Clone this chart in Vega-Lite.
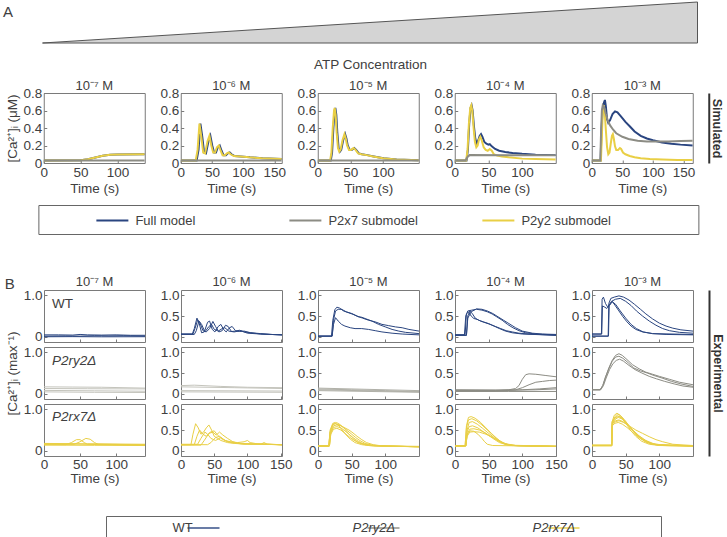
{
"$schema": "https://vega.github.io/schema/vega-lite/v6.json",
"padding": {"left": 2, "top": 0, "right": 0, "bottom": 0},
"config": {
 "font": "Liberation Sans",
 "concat": {"spacing": 0},
 "view": {"stroke": "#7a7a7a", "strokeWidth": 1},
 "axis": {"domain": false, "grid": false, "tickSize": -3, "tickColor": "#7a7a7a", "labelFontSize": 13.5, "labelColor": "#404040", "titleFontSize": 13.5, "titleFontWeight": "normal", "titleColor": "#404040", "labelPadding": 5, "titlePadding": 3, "labelFlush": false, "labelOverlap": false},
 "title": {"fontSize": 13, "fontWeight": "normal", "color": "#404040", "offset": 4},
 "legend": {"labelFontSize": 13, "labelColor": "#404040"}
},
"datasets": {
 "s7": [
  {"m":"Full model","t":0,"v":0.03},{"m":"Full model","t":50,"v":0.031},{"m":"Full model","t":60,"v":0.042},{"m":"Full model","t":70,"v":0.063},{"m":"Full model","t":80,"v":0.083},{"m":"Full model","t":90,"v":0.093},{"m":"Full model","t":100,"v":0.097},{"m":"Full model","t":137,"v":0.099},
  {"m":"P2y2 submodel","t":0,"v":0.03},{"m":"P2y2 submodel","t":50,"v":0.031},{"m":"P2y2 submodel","t":60,"v":0.042},{"m":"P2y2 submodel","t":70,"v":0.063},{"m":"P2y2 submodel","t":80,"v":0.083},{"m":"P2y2 submodel","t":90,"v":0.093},{"m":"P2y2 submodel","t":100,"v":0.097},{"m":"P2y2 submodel","t":137,"v":0.099},
  {"m":"P2x7 submodel","t":0,"v":0.03},{"m":"P2x7 submodel","t":137,"v":0.03}
 ],
 "s6": [
  {"m":"Full model","t":0,"v":0.03},{"m":"Full model","t":25.5,"v":0.03},{"m":"Full model","t":28.5,"v":0.15},{"m":"Full model","t":31.5,"v":0.45},{"m":"Full model","t":34.5,"v":0.3},{"m":"Full model","t":37.5,"v":0.12},{"m":"Full model","t":40.5,"v":0.11},{"m":"Full model","t":44.5,"v":0.25},{"m":"Full model","t":47.5,"v":0.31},{"m":"Full model","t":50.5,"v":0.2},{"m":"Full model","t":53.5,"v":0.12},{"m":"Full model","t":56.5,"v":0.12},{"m":"Full model","t":59.5,"v":0.18},{"m":"Full model","t":62.5,"v":0.2},{"m":"Full model","t":65.5,"v":0.14},{"m":"Full model","t":68.5,"v":0.09},{"m":"Full model","t":72.5,"v":0.09},{"m":"Full model","t":75.5,"v":0.11},{"m":"Full model","t":78.5,"v":0.12},{"m":"Full model","t":81.5,"v":0.1},{"m":"Full model","t":86.5,"v":0.08},{"m":"Full model","t":96,"v":0.075},{"m":"Full model","t":111,"v":0.065},{"m":"Full model","t":131,"v":0.055},{"m":"Full model","t":162,"v":0.045},
  {"m":"P2y2 submodel","t":0,"v":0.03},{"m":"P2y2 submodel","t":24,"v":0.03},{"m":"P2y2 submodel","t":27,"v":0.15},{"m":"P2y2 submodel","t":30,"v":0.45},{"m":"P2y2 submodel","t":33,"v":0.3},{"m":"P2y2 submodel","t":36,"v":0.12},{"m":"P2y2 submodel","t":39,"v":0.11},{"m":"P2y2 submodel","t":43,"v":0.25},{"m":"P2y2 submodel","t":46,"v":0.31},{"m":"P2y2 submodel","t":49,"v":0.2},{"m":"P2y2 submodel","t":52,"v":0.12},{"m":"P2y2 submodel","t":55,"v":0.12},{"m":"P2y2 submodel","t":58,"v":0.18},{"m":"P2y2 submodel","t":61,"v":0.2},{"m":"P2y2 submodel","t":64,"v":0.14},{"m":"P2y2 submodel","t":67,"v":0.09},{"m":"P2y2 submodel","t":71,"v":0.09},{"m":"P2y2 submodel","t":74,"v":0.11},{"m":"P2y2 submodel","t":77,"v":0.12},{"m":"P2y2 submodel","t":80,"v":0.1},{"m":"P2y2 submodel","t":85,"v":0.08},{"m":"P2y2 submodel","t":95,"v":0.075},{"m":"P2y2 submodel","t":110,"v":0.065},{"m":"P2y2 submodel","t":130,"v":0.055},{"m":"P2y2 submodel","t":162,"v":0.045},
  {"m":"P2x7 submodel","t":0,"v":0.03},{"m":"P2x7 submodel","t":162,"v":0.03}
 ],
 "s5": [
  {"m":"Full model","t":0,"v":0.03},{"m":"Full model","t":20,"v":0.03},{"m":"Full model","t":22,"v":0.12},{"m":"Full model","t":24,"v":0.4},{"m":"Full model","t":26,"v":0.6},{"m":"Full model","t":27,"v":0.63},{"m":"Full model","t":28.5,"v":0.55},{"m":"Full model","t":30,"v":0.35},{"m":"Full model","t":32,"v":0.17},{"m":"Full model","t":34,"v":0.13},{"m":"Full model","t":36,"v":0.15},{"m":"Full model","t":39,"v":0.26},{"m":"Full model","t":42,"v":0.33},{"m":"Full model","t":44,"v":0.28},{"m":"Full model","t":46,"v":0.2},{"m":"Full model","t":49,"v":0.15},{"m":"Full model","t":52,"v":0.15},{"m":"Full model","t":56,"v":0.17},{"m":"Full model","t":59,"v":0.15},{"m":"Full model","t":63,"v":0.11},{"m":"Full model","t":68,"v":0.1},{"m":"Full model","t":76,"v":0.09},{"m":"Full model","t":86,"v":0.075},{"m":"Full model","t":101,"v":0.055},{"m":"Full model","t":121,"v":0.04},{"m":"Full model","t":155,"v":0.031},
  {"m":"P2y2 submodel","t":0,"v":0.03},{"m":"P2y2 submodel","t":19,"v":0.03},{"m":"P2y2 submodel","t":21,"v":0.12},{"m":"P2y2 submodel","t":23,"v":0.4},{"m":"P2y2 submodel","t":25,"v":0.6},{"m":"P2y2 submodel","t":26,"v":0.63},{"m":"P2y2 submodel","t":27.5,"v":0.55},{"m":"P2y2 submodel","t":29,"v":0.35},{"m":"P2y2 submodel","t":31,"v":0.17},{"m":"P2y2 submodel","t":33,"v":0.13},{"m":"P2y2 submodel","t":35,"v":0.15},{"m":"P2y2 submodel","t":38,"v":0.26},{"m":"P2y2 submodel","t":41,"v":0.33},{"m":"P2y2 submodel","t":43,"v":0.28},{"m":"P2y2 submodel","t":45,"v":0.2},{"m":"P2y2 submodel","t":48,"v":0.15},{"m":"P2y2 submodel","t":51,"v":0.15},{"m":"P2y2 submodel","t":55,"v":0.17},{"m":"P2y2 submodel","t":58,"v":0.15},{"m":"P2y2 submodel","t":62,"v":0.11},{"m":"P2y2 submodel","t":67,"v":0.1},{"m":"P2y2 submodel","t":75,"v":0.09},{"m":"P2y2 submodel","t":85,"v":0.075},{"m":"P2y2 submodel","t":100,"v":0.055},{"m":"P2y2 submodel","t":120,"v":0.04},{"m":"P2y2 submodel","t":155,"v":0.031},
  {"m":"P2x7 submodel","t":0,"v":0.03},{"m":"P2x7 submodel","t":155,"v":0.03}
 ],
 "s4": [
  {"m":"Full model","t":0,"v":0.03},{"m":"Full model","t":17.5,"v":0.03},{"m":"Full model","t":19.5,"v":0.15},{"m":"Full model","t":21.5,"v":0.45},{"m":"Full model","t":23.5,"v":0.63},{"m":"Full model","t":25,"v":0.66},{"m":"Full model","t":26.5,"v":0.6},{"m":"Full model","t":28.5,"v":0.42},{"m":"Full model","t":30.5,"v":0.28},{"m":"Full model","t":32.5,"v":0.22},{"m":"Full model","t":35,"v":0.26},{"m":"Full model","t":37,"v":0.31},{"m":"Full model","t":39,"v":0.33},{"m":"Full model","t":41,"v":0.3},{"m":"Full model","t":44,"v":0.24},{"m":"Full model","t":47,"v":0.22},{"m":"Full model","t":50,"v":0.21},{"m":"Full model","t":52,"v":0.215},{"m":"Full model","t":55,"v":0.19},{"m":"Full model","t":60,"v":0.16},{"m":"Full model","t":66,"v":0.14},{"m":"Full model","t":75,"v":0.125},{"m":"Full model","t":86,"v":0.115},{"m":"Full model","t":100,"v":0.105},{"m":"Full model","t":120,"v":0.095},{"m":"Full model","t":150,"v":0.09},
  {"m":"P2y2 submodel","t":0,"v":0.03},{"m":"P2y2 submodel","t":17,"v":0.03},{"m":"P2y2 submodel","t":19,"v":0.15},{"m":"P2y2 submodel","t":21,"v":0.45},{"m":"P2y2 submodel","t":23,"v":0.63},{"m":"P2y2 submodel","t":24.5,"v":0.66},{"m":"P2y2 submodel","t":26,"v":0.6},{"m":"P2y2 submodel","t":28,"v":0.4},{"m":"P2y2 submodel","t":30,"v":0.24},{"m":"P2y2 submodel","t":32,"v":0.18},{"m":"P2y2 submodel","t":34,"v":0.2},{"m":"P2y2 submodel","t":36,"v":0.27},{"m":"P2y2 submodel","t":38,"v":0.3},{"m":"P2y2 submodel","t":40,"v":0.26},{"m":"P2y2 submodel","t":43,"v":0.18},{"m":"P2y2 submodel","t":46,"v":0.15},{"m":"P2y2 submodel","t":49,"v":0.14},{"m":"P2y2 submodel","t":52,"v":0.16},{"m":"P2y2 submodel","t":55,"v":0.14},{"m":"P2y2 submodel","t":58,"v":0.1},{"m":"P2y2 submodel","t":63,"v":0.085},{"m":"P2y2 submodel","t":70,"v":0.075},{"m":"P2y2 submodel","t":80,"v":0.065},{"m":"P2y2 submodel","t":100,"v":0.05},{"m":"P2y2 submodel","t":120,"v":0.045},{"m":"P2y2 submodel","t":150,"v":0.04},
  {"m":"P2x7 submodel","t":0,"v":0.03},{"m":"P2x7 submodel","t":16,"v":0.03},{"m":"P2x7 submodel","t":19,"v":0.07},{"m":"P2x7 submodel","t":22,"v":0.09},{"m":"P2x7 submodel","t":150,"v":0.088}
 ],
 "s3": [
  {"m":"Full model","t":0,"v":0.03},{"m":"Full model","t":14.5,"v":0.03},{"m":"Full model","t":16,"v":0.4},{"m":"Full model","t":18,"v":0.62},{"m":"Full model","t":20,"v":0.69},{"m":"Full model","t":21.5,"v":0.72},{"m":"Full model","t":23,"v":0.65},{"m":"Full model","t":25,"v":0.5},{"m":"Full model","t":27,"v":0.46},{"m":"Full model","t":30,"v":0.49},{"m":"Full model","t":34,"v":0.56},{"m":"Full model","t":38,"v":0.59},{"m":"Full model","t":42,"v":0.58},{"m":"Full model","t":48,"v":0.53},{"m":"Full model","t":55,"v":0.47},{"m":"Full model","t":62,"v":0.42},{"m":"Full model","t":70,"v":0.36},{"m":"Full model","t":80,"v":0.31},{"m":"Full model","t":90,"v":0.28},{"m":"Full model","t":100,"v":0.26},{"m":"Full model","t":115,"v":0.235},{"m":"Full model","t":130,"v":0.22},{"m":"Full model","t":145,"v":0.21},{"m":"Full model","t":165,"v":0.2},
  {"m":"P2y2 submodel","t":0,"v":0.03},{"m":"P2y2 submodel","t":15,"v":0.03},{"m":"P2y2 submodel","t":16.5,"v":0.3},{"m":"P2y2 submodel","t":18,"v":0.6},{"m":"P2y2 submodel","t":19.5,"v":0.66},{"m":"P2y2 submodel","t":21,"v":0.6},{"m":"P2y2 submodel","t":23,"v":0.38},{"m":"P2y2 submodel","t":25,"v":0.18},{"m":"P2y2 submodel","t":27,"v":0.1},{"m":"P2y2 submodel","t":29,"v":0.12},{"m":"P2y2 submodel","t":31,"v":0.22},{"m":"P2y2 submodel","t":33,"v":0.31},{"m":"P2y2 submodel","t":34.5,"v":0.33},{"m":"P2y2 submodel","t":36,"v":0.28},{"m":"P2y2 submodel","t":38,"v":0.19},{"m":"P2y2 submodel","t":40,"v":0.15},{"m":"P2y2 submodel","t":43,"v":0.15},{"m":"P2y2 submodel","t":46,"v":0.17},{"m":"P2y2 submodel","t":48,"v":0.16},{"m":"P2y2 submodel","t":51,"v":0.12},{"m":"P2y2 submodel","t":55,"v":0.1},{"m":"P2y2 submodel","t":62,"v":0.08},{"m":"P2y2 submodel","t":70,"v":0.065},{"m":"P2y2 submodel","t":80,"v":0.055},{"m":"P2y2 submodel","t":95,"v":0.045},{"m":"P2y2 submodel","t":115,"v":0.04},{"m":"P2y2 submodel","t":140,"v":0.035},{"m":"P2y2 submodel","t":165,"v":0.033},
  {"m":"P2x7 submodel","t":0,"v":0.03},{"m":"P2x7 submodel","t":14,"v":0.03},{"m":"P2x7 submodel","t":15,"v":0.3},{"m":"P2x7 submodel","t":16.5,"v":0.6},{"m":"P2x7 submodel","t":18,"v":0.66},{"m":"P2x7 submodel","t":20,"v":0.64},{"m":"P2x7 submodel","t":23,"v":0.56},{"m":"P2x7 submodel","t":26,"v":0.49},{"m":"P2x7 submodel","t":30,"v":0.43},{"m":"P2x7 submodel","t":35,"v":0.38},{"m":"P2x7 submodel","t":40,"v":0.34},{"m":"P2x7 submodel","t":50,"v":0.3},{"m":"P2x7 submodel","t":60,"v":0.275},{"m":"P2x7 submodel","t":75,"v":0.255},{"m":"P2x7 submodel","t":90,"v":0.247},{"m":"P2x7 submodel","t":105,"v":0.245},{"m":"P2x7 submodel","t":125,"v":0.247},{"m":"P2x7 submodel","t":145,"v":0.252},{"m":"P2x7 submodel","t":165,"v":0.255}
 ],
 "e7w": [
  {"r":1,"t":0,"v":0.05},{"r":1,"t":20,"v":0.05},{"r":1,"t":40,"v":0.045},{"r":1,"t":50,"v":0.06},{"r":1,"t":60,"v":0.05},{"r":1,"t":80,"v":0.045},{"r":1,"t":100,"v":0.05},{"r":1,"t":120,"v":0.04},{"r":1,"t":140,"v":0.04},
  {"r":2,"t":0,"v":0.02},{"r":2,"t":30,"v":0.025},{"r":2,"t":50,"v":0.02},{"r":2,"t":70,"v":0.03},{"r":2,"t":90,"v":0.025},{"r":2,"t":110,"v":0.03},{"r":2,"t":140,"v":0.02},
  {"r":3,"t":0,"v":0.005},{"r":3,"t":40,"v":0.008},{"r":3,"t":80,"v":0.004},{"r":3,"t":140,"v":0.006}
 ],
 "e7g": [
  {"r":1,"t":0,"v":0.17},{"r":1,"t":40,"v":0.165},{"r":1,"t":80,"v":0.16},{"r":1,"t":140,"v":0.14},
  {"r":2,"t":0,"v":0.13},{"r":2,"t":60,"v":0.125},{"r":2,"t":140,"v":0.12},
  {"r":3,"t":0,"v":0.085},{"r":3,"t":70,"v":0.075},{"r":3,"t":140,"v":0.065},
  {"r":4,"t":0,"v":0.05},{"r":4,"t":70,"v":0.04},{"r":4,"t":140,"v":0.035}
 ],
 "e7y": [
  {"r":1,"t":0,"v":0.17},{"r":1,"t":40,"v":0.165},{"r":1,"t":70,"v":0.16},{"r":1,"t":100,"v":0.155},{"r":1,"t":140,"v":0.15},
  {"r":2,"t":0,"v":0.15},{"r":2,"t":30,"v":0.15},{"r":2,"t":38,"v":0.2},{"r":2,"t":45,"v":0.27},{"r":2,"t":50,"v":0.27},{"r":2,"t":56,"v":0.2},{"r":2,"t":60,"v":0.16},{"r":2,"t":100,"v":0.15},{"r":2,"t":140,"v":0.14},
  {"r":3,"t":0,"v":0.16},{"r":3,"t":42,"v":0.16},{"r":3,"t":50,"v":0.22},{"r":3,"t":58,"v":0.3},{"r":3,"t":64,"v":0.28},{"r":3,"t":70,"v":0.2},{"r":3,"t":75,"v":0.16},{"r":3,"t":140,"v":0.15},
  {"r":4,"t":0,"v":0.14},{"r":4,"t":70,"v":0.135},{"r":4,"t":140,"v":0.13},
  {"r":5,"t":0,"v":0.18},{"r":5,"t":60,"v":0.17},{"r":5,"t":140,"v":0.16}
 ],
 "e6w": [
  {"r":1,"t":0,"v":0.07},{"r":1,"t":17,"v":0.07},{"r":1,"t":20,"v":0.2},{"r":1,"t":24,"v":0.45},{"r":1,"t":27,"v":0.35},{"r":1,"t":31,"v":0.1},{"r":1,"t":35,"v":0.12},{"r":1,"t":40,"v":0.35},{"r":1,"t":43,"v":0.38},{"r":1,"t":47,"v":0.18},{"r":1,"t":51,"v":0.12},{"r":1,"t":56,"v":0.25},{"r":1,"t":60,"v":0.3},{"r":1,"t":64,"v":0.18},{"r":1,"t":68,"v":0.12},{"r":1,"t":73,"v":0.22},{"r":1,"t":77,"v":0.25},{"r":1,"t":82,"v":0.15},{"r":1,"t":88,"v":0.13},{"r":1,"t":95,"v":0.14},{"r":1,"t":105,"v":0.1},{"r":1,"t":120,"v":0.08},{"r":1,"t":135,"v":0.06},{"r":1,"t":152,"v":0.05},
  {"r":2,"t":0,"v":0.07},{"r":2,"t":18,"v":0.07},{"r":2,"t":21,"v":0.2},{"r":2,"t":25,"v":0.4},{"r":2,"t":28,"v":0.36},{"r":2,"t":33,"v":0.15},{"r":2,"t":38,"v":0.12},{"r":2,"t":43,"v":0.2},{"r":2,"t":48,"v":0.37},{"r":2,"t":52,"v":0.25},{"r":2,"t":57,"v":0.12},{"r":2,"t":62,"v":0.15},{"r":2,"t":67,"v":0.28},{"r":2,"t":71,"v":0.25},{"r":2,"t":76,"v":0.13},{"r":2,"t":82,"v":0.14},{"r":2,"t":88,"v":0.16},{"r":2,"t":95,"v":0.12},{"r":2,"t":105,"v":0.1},{"r":2,"t":120,"v":0.07},{"r":2,"t":135,"v":0.06},{"r":2,"t":152,"v":0.05},
  {"r":3,"t":0,"v":0.06},{"r":3,"t":20,"v":0.06},{"r":3,"t":23,"v":0.15},{"r":3,"t":27,"v":0.38},{"r":3,"t":31,"v":0.3},{"r":3,"t":36,"v":0.12},{"r":3,"t":42,"v":0.25},{"r":3,"t":46,"v":0.3},{"r":3,"t":50,"v":0.18},{"r":3,"t":56,"v":0.14},{"r":3,"t":62,"v":0.2},{"r":3,"t":66,"v":0.22},{"r":3,"t":72,"v":0.14},{"r":3,"t":80,"v":0.12},{"r":3,"t":90,"v":0.15},{"r":3,"t":100,"v":0.09},{"r":3,"t":120,"v":0.07},{"r":3,"t":152,"v":0.05}
 ],
 "e6g": [
  {"r":1,"t":0,"v":0.2},{"r":1,"t":20,"v":0.21},{"r":1,"t":60,"v":0.18},{"r":1,"t":100,"v":0.16},{"r":1,"t":152,"v":0.15},
  {"r":2,"t":0,"v":0.17},{"r":2,"t":80,"v":0.15},{"r":2,"t":152,"v":0.13},
  {"r":3,"t":0,"v":0.08},{"r":3,"t":152,"v":0.07},
  {"r":4,"t":0,"v":0.05},{"r":4,"t":152,"v":0.04}
 ],
 "e6y": [
  {"r":1,"t":0,"v":0.15},{"r":1,"t":15,"v":0.15},{"r":1,"t":18,"v":0.4},{"r":1,"t":22,"v":0.65},{"r":1,"t":26,"v":0.55},{"r":1,"t":30,"v":0.4},{"r":1,"t":34,"v":0.45},{"r":1,"t":38,"v":0.55},{"r":1,"t":42,"v":0.62},{"r":1,"t":46,"v":0.5},{"r":1,"t":50,"v":0.35},{"r":1,"t":55,"v":0.3},{"r":1,"t":60,"v":0.25},{"r":1,"t":70,"v":0.2},{"r":1,"t":80,"v":0.18},{"r":1,"t":90,"v":0.17},{"r":1,"t":100,"v":0.17},{"r":1,"t":152,"v":0.15},
  {"r":2,"t":0,"v":0.15},{"r":2,"t":20,"v":0.15},{"r":2,"t":24,"v":0.35},{"r":2,"t":28,"v":0.5},{"r":2,"t":33,"v":0.4},{"r":2,"t":38,"v":0.35},{"r":2,"t":44,"v":0.45},{"r":2,"t":50,"v":0.48},{"r":2,"t":54,"v":0.4},{"r":2,"t":60,"v":0.3},{"r":2,"t":66,"v":0.25},{"r":2,"t":75,"v":0.22},{"r":2,"t":85,"v":0.2},{"r":2,"t":95,"v":0.22},{"r":2,"t":100,"v":0.25},{"r":2,"t":104,"v":0.2},{"r":2,"t":115,"v":0.17},{"r":2,"t":152,"v":0.15},
  {"r":3,"t":0,"v":0.14},{"r":3,"t":30,"v":0.14},{"r":3,"t":35,"v":0.25},{"r":3,"t":42,"v":0.42},{"r":3,"t":48,"v":0.45},{"r":3,"t":53,"v":0.38},{"r":3,"t":58,"v":0.45},{"r":3,"t":63,"v":0.38},{"r":3,"t":70,"v":0.3},{"r":3,"t":78,"v":0.22},{"r":3,"t":85,"v":0.19},{"r":3,"t":95,"v":0.16},{"r":3,"t":120,"v":0.16},{"r":3,"t":125,"v":0.2},{"r":3,"t":130,"v":0.16},{"r":3,"t":152,"v":0.14},
  {"r":4,"t":0,"v":0.15},{"r":4,"t":40,"v":0.15},{"r":4,"t":45,"v":0.2},{"r":4,"t":52,"v":0.32},{"r":4,"t":58,"v":0.35},{"r":4,"t":64,"v":0.28},{"r":4,"t":70,"v":0.22},{"r":4,"t":80,"v":0.2},{"r":4,"t":90,"v":0.18},{"r":4,"t":152,"v":0.15},
  {"r":5,"t":0,"v":0.16},{"r":5,"t":25,"v":0.16},{"r":5,"t":30,"v":0.3},{"r":5,"t":36,"v":0.45},{"r":5,"t":40,"v":0.4},{"r":5,"t":45,"v":0.3},{"r":5,"t":52,"v":0.25},{"r":5,"t":60,"v":0.32},{"r":5,"t":66,"v":0.25},{"r":5,"t":75,"v":0.2},{"r":5,"t":90,"v":0.17},{"r":5,"t":152,"v":0.15}
 ],
 "e5w": [
  {"r":1,"t":0,"v":0.02},{"r":1,"t":20,"v":0.02},{"r":1,"t":22,"v":0.4},{"r":1,"t":25,"v":0.65},{"r":1,"t":28,"v":0.71},{"r":1,"t":32,"v":0.69},{"r":1,"t":38,"v":0.62},{"r":1,"t":45,"v":0.58},{"r":1,"t":52,"v":0.54},{"r":1,"t":60,"v":0.48},{"r":1,"t":65,"v":0.47},{"r":1,"t":70,"v":0.44},{"r":1,"t":80,"v":0.38},{"r":1,"t":90,"v":0.3},{"r":1,"t":100,"v":0.24},{"r":1,"t":110,"v":0.18},{"r":1,"t":120,"v":0.14},{"r":1,"t":130,"v":0.11},{"r":1,"t":150,"v":0.08},
  {"r":2,"t":0,"v":0.02},{"r":2,"t":21,"v":0.02},{"r":2,"t":23,"v":0.4},{"r":2,"t":26,"v":0.62},{"r":2,"t":30,"v":0.66},{"r":2,"t":35,"v":0.66},{"r":2,"t":42,"v":0.6},{"r":2,"t":50,"v":0.56},{"r":2,"t":58,"v":0.5},{"r":2,"t":66,"v":0.45},{"r":2,"t":75,"v":0.4},{"r":2,"t":85,"v":0.36},{"r":2,"t":95,"v":0.3},{"r":2,"t":105,"v":0.27},{"r":2,"t":115,"v":0.24},{"r":2,"t":125,"v":0.22},{"r":2,"t":135,"v":0.18},{"r":2,"t":150,"v":0.14},
  {"r":3,"t":0,"v":0.02},{"r":3,"t":21,"v":0.02},{"r":3,"t":23,"v":0.3},{"r":3,"t":26,"v":0.46},{"r":3,"t":30,"v":0.38},{"r":3,"t":35,"v":0.3},{"r":3,"t":40,"v":0.26},{"r":3,"t":48,"v":0.22},{"r":3,"t":55,"v":0.2},{"r":3,"t":65,"v":0.2},{"r":3,"t":75,"v":0.18},{"r":3,"t":85,"v":0.15},{"r":3,"t":95,"v":0.12},{"r":3,"t":110,"v":0.09},{"r":3,"t":125,"v":0.07},{"r":3,"t":150,"v":0.05}
 ],
 "e5g": [
  {"r":1,"t":0,"v":0.12},{"r":1,"t":50,"v":0.1},{"r":1,"t":100,"v":0.08},{"r":1,"t":150,"v":0.06},
  {"r":2,"t":0,"v":0.1},{"r":2,"t":150,"v":0.05},
  {"r":3,"t":0,"v":0.08},{"r":3,"t":150,"v":0.04},
  {"r":4,"t":0,"v":0.14},{"r":4,"t":150,"v":0.08}
 ],
 "e5y": [
  {"r":1,"t":0,"v":0.12},{"r":1,"t":16,"v":0.12},{"r":1,"t":18,"v":0.5},{"r":1,"t":22,"v":0.66},{"r":1,"t":26,"v":0.68},{"r":1,"t":30,"v":0.66},{"r":1,"t":35,"v":0.6},{"r":1,"t":40,"v":0.52},{"r":1,"t":45,"v":0.42},{"r":1,"t":50,"v":0.33},{"r":1,"t":55,"v":0.25},{"r":1,"t":60,"v":0.2},{"r":1,"t":70,"v":0.15},{"r":1,"t":80,"v":0.13},{"r":1,"t":100,"v":0.12},{"r":1,"t":150,"v":0.1},
  {"r":2,"t":0,"v":0.12},{"r":2,"t":16,"v":0.12},{"r":2,"t":18,"v":0.45},{"r":2,"t":22,"v":0.62},{"r":2,"t":26,"v":0.65},{"r":2,"t":32,"v":0.62},{"r":2,"t":38,"v":0.56},{"r":2,"t":44,"v":0.48},{"r":2,"t":50,"v":0.4},{"r":2,"t":56,"v":0.32},{"r":2,"t":62,"v":0.25},{"r":2,"t":70,"v":0.18},{"r":2,"t":80,"v":0.14},{"r":2,"t":95,"v":0.12},{"r":2,"t":150,"v":0.1},
  {"r":3,"t":0,"v":0.12},{"r":3,"t":17,"v":0.12},{"r":3,"t":19,"v":0.45},{"r":3,"t":23,"v":0.6},{"r":3,"t":28,"v":0.62},{"r":3,"t":34,"v":0.6},{"r":3,"t":40,"v":0.55},{"r":3,"t":46,"v":0.5},{"r":3,"t":52,"v":0.43},{"r":3,"t":58,"v":0.35},{"r":3,"t":65,"v":0.27},{"r":3,"t":72,"v":0.2},{"r":3,"t":82,"v":0.15},{"r":3,"t":95,"v":0.12},{"r":3,"t":150,"v":0.1},
  {"r":4,"t":0,"v":0.12},{"r":4,"t":17,"v":0.12},{"r":4,"t":19,"v":0.42},{"r":4,"t":23,"v":0.56},{"r":4,"t":28,"v":0.58},{"r":4,"t":34,"v":0.55},{"r":4,"t":40,"v":0.48},{"r":4,"t":46,"v":0.4},{"r":4,"t":52,"v":0.32},{"r":4,"t":58,"v":0.25},{"r":4,"t":66,"v":0.18},{"r":4,"t":76,"v":0.14},{"r":4,"t":90,"v":0.12},{"r":4,"t":150,"v":0.11},
  {"r":5,"t":0,"v":0.12},{"r":5,"t":17,"v":0.12},{"r":5,"t":19,"v":0.4},{"r":5,"t":23,"v":0.52},{"r":5,"t":28,"v":0.54},{"r":5,"t":34,"v":0.5},{"r":5,"t":40,"v":0.42},{"r":5,"t":46,"v":0.34},{"r":5,"t":52,"v":0.27},{"r":5,"t":60,"v":0.2},{"r":5,"t":70,"v":0.15},{"r":5,"t":85,"v":0.12},{"r":5,"t":150,"v":0.1},
  {"r":6,"t":0,"v":0.11},{"r":6,"t":16,"v":0.11},{"r":6,"t":18,"v":0.45},{"r":6,"t":22,"v":0.64},{"r":6,"t":25,"v":0.66},{"r":6,"t":30,"v":0.62},{"r":6,"t":36,"v":0.5},{"r":6,"t":42,"v":0.38},{"r":6,"t":48,"v":0.28},{"r":6,"t":55,"v":0.2},{"r":6,"t":65,"v":0.15},{"r":6,"t":80,"v":0.12},{"r":6,"t":150,"v":0.1}
 ],
 "e4w": [
  {"r":1,"t":0,"v":0.05},{"r":1,"t":14,"v":0.05},{"r":1,"t":16,"v":0.5},{"r":1,"t":19,"v":0.62},{"r":1,"t":25,"v":0.64},{"r":1,"t":32,"v":0.66},{"r":1,"t":40,"v":0.64},{"r":1,"t":48,"v":0.6},{"r":1,"t":55,"v":0.55},{"r":1,"t":62,"v":0.48},{"r":1,"t":70,"v":0.4},{"r":1,"t":78,"v":0.3},{"r":1,"t":86,"v":0.22},{"r":1,"t":95,"v":0.15},{"r":1,"t":105,"v":0.1},{"r":1,"t":120,"v":0.07},{"r":1,"t":150,"v":0.05},
  {"r":2,"t":0,"v":0.05},{"r":2,"t":15,"v":0.05},{"r":2,"t":17,"v":0.55},{"r":2,"t":20,"v":0.6},{"r":2,"t":24,"v":0.5},{"r":2,"t":28,"v":0.44},{"r":2,"t":33,"v":0.42},{"r":2,"t":38,"v":0.38},{"r":2,"t":45,"v":0.34},{"r":2,"t":52,"v":0.3},{"r":2,"t":60,"v":0.25},{"r":2,"t":68,"v":0.2},{"r":2,"t":76,"v":0.15},{"r":2,"t":85,"v":0.12},{"r":2,"t":95,"v":0.09},{"r":2,"t":110,"v":0.07},{"r":2,"t":150,"v":0.04},
  {"r":3,"t":0,"v":0.04},{"r":3,"t":17,"v":0.04},{"r":3,"t":19,"v":0.5},{"r":3,"t":22,"v":0.62},{"r":3,"t":26,"v":0.55},{"r":3,"t":30,"v":0.45},{"r":3,"t":35,"v":0.4},{"r":3,"t":42,"v":0.36},{"r":3,"t":50,"v":0.32},{"r":3,"t":58,"v":0.26},{"r":3,"t":66,"v":0.2},{"r":3,"t":75,"v":0.14},{"r":3,"t":85,"v":0.1},{"r":3,"t":100,"v":0.07},{"r":3,"t":150,"v":0.04},
  {"r":4,"t":0,"v":0.04},{"r":4,"t":17,"v":0.04},{"r":4,"t":19,"v":0.45},{"r":4,"t":24,"v":0.6},{"r":4,"t":32,"v":0.67},{"r":4,"t":40,"v":0.66},{"r":4,"t":48,"v":0.62},{"r":4,"t":56,"v":0.56},{"r":4,"t":64,"v":0.48},{"r":4,"t":72,"v":0.4},{"r":4,"t":80,"v":0.32},{"r":4,"t":90,"v":0.22},{"r":4,"t":100,"v":0.14},{"r":4,"t":115,"v":0.09},{"r":4,"t":130,"v":0.07},{"r":4,"t":150,"v":0.06}
 ],
 "e4g": [
  {"r":1,"t":0,"v":0.09},{"r":1,"t":30,"v":0.09},{"r":1,"t":60,"v":0.09},{"r":1,"t":80,"v":0.1},{"r":1,"t":90,"v":0.13},{"r":1,"t":95,"v":0.2},{"r":1,"t":100,"v":0.35},{"r":1,"t":105,"v":0.46},{"r":1,"t":110,"v":0.48},{"r":1,"t":120,"v":0.47},{"r":1,"t":135,"v":0.44},{"r":1,"t":150,"v":0.41},
  {"r":2,"t":0,"v":0.08},{"r":2,"t":60,"v":0.08},{"r":2,"t":90,"v":0.1},{"r":2,"t":100,"v":0.15},{"r":2,"t":110,"v":0.22},{"r":2,"t":120,"v":0.28},{"r":2,"t":130,"v":0.3},{"r":2,"t":140,"v":0.32},{"r":2,"t":150,"v":0.33},
  {"r":3,"t":0,"v":0.07},{"r":3,"t":60,"v":0.07},{"r":3,"t":100,"v":0.1},{"r":3,"t":125,"v":0.12},{"r":3,"t":150,"v":0.15},
  {"r":4,"t":0,"v":0.1},{"r":4,"t":80,"v":0.09},{"r":4,"t":120,"v":0.1},{"r":4,"t":150,"v":0.12},
  {"r":5,"t":0,"v":0.06},{"r":5,"t":80,"v":0.06},{"r":5,"t":150,"v":0.06}
 ],
 "e4y": [
  {"r":1,"t":0,"v":0.12},{"r":1,"t":15,"v":0.12},{"r":1,"t":17,"v":0.6},{"r":1,"t":20,"v":0.8},{"r":1,"t":24,"v":0.82},{"r":1,"t":30,"v":0.78},{"r":1,"t":38,"v":0.68},{"r":1,"t":46,"v":0.55},{"r":1,"t":54,"v":0.42},{"r":1,"t":62,"v":0.3},{"r":1,"t":70,"v":0.2},{"r":1,"t":80,"v":0.14},{"r":1,"t":95,"v":0.12},{"r":1,"t":150,"v":0.11},
  {"r":2,"t":0,"v":0.12},{"r":2,"t":15,"v":0.12},{"r":2,"t":17,"v":0.55},{"r":2,"t":20,"v":0.74},{"r":2,"t":25,"v":0.77},{"r":2,"t":32,"v":0.72},{"r":2,"t":40,"v":0.62},{"r":2,"t":48,"v":0.5},{"r":2,"t":56,"v":0.38},{"r":2,"t":64,"v":0.27},{"r":2,"t":72,"v":0.18},{"r":2,"t":85,"v":0.13},{"r":2,"t":150,"v":0.11},
  {"r":3,"t":0,"v":0.12},{"r":3,"t":16,"v":0.12},{"r":3,"t":18,"v":0.5},{"r":3,"t":21,"v":0.68},{"r":3,"t":26,"v":0.7},{"r":3,"t":33,"v":0.64},{"r":3,"t":41,"v":0.54},{"r":3,"t":50,"v":0.42},{"r":3,"t":58,"v":0.32},{"r":3,"t":66,"v":0.22},{"r":3,"t":75,"v":0.16},{"r":3,"t":90,"v":0.13},{"r":3,"t":150,"v":0.11},
  {"r":4,"t":0,"v":0.12},{"r":4,"t":16,"v":0.12},{"r":4,"t":18,"v":0.45},{"r":4,"t":21,"v":0.58},{"r":4,"t":26,"v":0.6},{"r":4,"t":34,"v":0.55},{"r":4,"t":42,"v":0.46},{"r":4,"t":50,"v":0.37},{"r":4,"t":58,"v":0.28},{"r":4,"t":66,"v":0.2},{"r":4,"t":78,"v":0.14},{"r":4,"t":150,"v":0.11},
  {"r":5,"t":0,"v":0.12},{"r":5,"t":16,"v":0.12},{"r":5,"t":18,"v":0.4},{"r":5,"t":22,"v":0.52},{"r":5,"t":28,"v":0.53},{"r":5,"t":36,"v":0.5},{"r":5,"t":44,"v":0.44},{"r":5,"t":52,"v":0.36},{"r":5,"t":62,"v":0.26},{"r":5,"t":72,"v":0.18},{"r":5,"t":85,"v":0.13},{"r":5,"t":150,"v":0.11},
  {"r":6,"t":0,"v":0.12},{"r":6,"t":16,"v":0.12},{"r":6,"t":18,"v":0.38},{"r":6,"t":22,"v":0.48},{"r":6,"t":28,"v":0.47},{"r":6,"t":34,"v":0.4},{"r":6,"t":40,"v":0.3},{"r":6,"t":44,"v":0.22},{"r":6,"t":48,"v":0.16},{"r":6,"t":56,"v":0.13},{"r":6,"t":150,"v":0.11},
  {"r":7,"t":0,"v":0.12},{"r":7,"t":16,"v":0.12},{"r":7,"t":18,"v":0.35},{"r":7,"t":22,"v":0.45},{"r":7,"t":28,"v":0.46},{"r":7,"t":36,"v":0.45},{"r":7,"t":46,"v":0.4},{"r":7,"t":56,"v":0.32},{"r":7,"t":66,"v":0.24},{"r":7,"t":76,"v":0.17},{"r":7,"t":90,"v":0.13},{"r":7,"t":150,"v":0.11}
 ],
 "e3w": [
  {"r":1,"t":0,"v":0.07},{"r":1,"t":14,"v":0.07},{"r":1,"t":15,"v":0.9},{"r":1,"t":17,"v":0.95},{"r":1,"t":20,"v":0.8},{"r":1,"t":23,"v":0.72},{"r":1,"t":27,"v":0.8},{"r":1,"t":30,"v":0.85},{"r":1,"t":34,"v":0.76},{"r":1,"t":40,"v":0.62},{"r":1,"t":46,"v":0.48},{"r":1,"t":52,"v":0.36},{"r":1,"t":58,"v":0.26},{"r":1,"t":65,"v":0.18},{"r":1,"t":75,"v":0.12},{"r":1,"t":90,"v":0.08},{"r":1,"t":110,"v":0.06},{"r":1,"t":150,"v":0.05},
  {"r":2,"t":0,"v":0.07},{"r":2,"t":14.5,"v":0.07},{"r":2,"t":15.5,"v":0.74},{"r":2,"t":18,"v":0.72},{"r":2,"t":22,"v":0.68},{"r":2,"t":26,"v":0.75},{"r":2,"t":30,"v":0.84},{"r":2,"t":35,"v":0.78},{"r":2,"t":42,"v":0.62},{"r":2,"t":50,"v":0.45},{"r":2,"t":58,"v":0.3},{"r":2,"t":66,"v":0.2},{"r":2,"t":76,"v":0.12},{"r":2,"t":90,"v":0.08},{"r":2,"t":150,"v":0.06},
  {"r":3,"t":0,"v":0.02},{"r":3,"t":24,"v":0.02},{"r":3,"t":25,"v":0.8},{"r":3,"t":28,"v":0.92},{"r":3,"t":33,"v":0.95},{"r":3,"t":40,"v":0.98},{"r":3,"t":47,"v":0.95},{"r":3,"t":55,"v":0.88},{"r":3,"t":63,"v":0.78},{"r":3,"t":72,"v":0.66},{"r":3,"t":80,"v":0.55},{"r":3,"t":90,"v":0.43},{"r":3,"t":100,"v":0.33},{"r":3,"t":110,"v":0.26},{"r":3,"t":120,"v":0.21},{"r":3,"t":132,"v":0.17},{"r":3,"t":150,"v":0.14},
  {"r":4,"t":0,"v":0.02},{"r":4,"t":24.5,"v":0.02},{"r":4,"t":25.5,"v":0.75},{"r":4,"t":29,"v":0.85},{"r":4,"t":35,"v":0.9},{"r":4,"t":42,"v":0.92},{"r":4,"t":50,"v":0.85},{"r":4,"t":58,"v":0.75},{"r":4,"t":66,"v":0.62},{"r":4,"t":75,"v":0.5},{"r":4,"t":85,"v":0.38},{"r":4,"t":95,"v":0.28},{"r":4,"t":105,"v":0.2},{"r":4,"t":115,"v":0.15},{"r":4,"t":130,"v":0.11},{"r":4,"t":150,"v":0.09}
 ],
 "e3g": [
  {"r":1,"t":0,"v":0.1},{"r":1,"t":12,"v":0.1},{"r":1,"t":16,"v":0.2},{"r":1,"t":20,"v":0.4},{"r":1,"t":25,"v":0.62},{"r":1,"t":30,"v":0.8},{"r":1,"t":35,"v":0.92},{"r":1,"t":40,"v":0.96},{"r":1,"t":45,"v":0.92},{"r":1,"t":52,"v":0.82},{"r":1,"t":60,"v":0.7},{"r":1,"t":70,"v":0.6},{"r":1,"t":80,"v":0.52},{"r":1,"t":90,"v":0.47},{"r":1,"t":100,"v":0.42},{"r":1,"t":115,"v":0.35},{"r":1,"t":130,"v":0.28},{"r":1,"t":150,"v":0.22},
  {"r":2,"t":0,"v":0.1},{"r":2,"t":12,"v":0.1},{"r":2,"t":16,"v":0.2},{"r":2,"t":20,"v":0.4},{"r":2,"t":25,"v":0.6},{"r":2,"t":30,"v":0.78},{"r":2,"t":35,"v":0.88},{"r":2,"t":40,"v":0.9},{"r":2,"t":46,"v":0.85},{"r":2,"t":54,"v":0.74},{"r":2,"t":62,"v":0.62},{"r":2,"t":72,"v":0.55},{"r":2,"t":82,"v":0.5},{"r":2,"t":92,"v":0.44},{"r":2,"t":104,"v":0.38},{"r":2,"t":118,"v":0.3},{"r":2,"t":132,"v":0.24},{"r":2,"t":150,"v":0.18},
  {"r":3,"t":0,"v":0.1},{"r":3,"t":13,"v":0.1},{"r":3,"t":17,"v":0.2},{"r":3,"t":21,"v":0.38},{"r":3,"t":26,"v":0.58},{"r":3,"t":31,"v":0.72},{"r":3,"t":36,"v":0.8},{"r":3,"t":41,"v":0.83},{"r":3,"t":47,"v":0.78},{"r":3,"t":55,"v":0.68},{"r":3,"t":64,"v":0.58},{"r":3,"t":74,"v":0.5},{"r":3,"t":85,"v":0.42},{"r":3,"t":96,"v":0.36},{"r":3,"t":108,"v":0.3},{"r":3,"t":122,"v":0.24},{"r":3,"t":135,"v":0.19},{"r":3,"t":150,"v":0.16}
 ],
 "e3y": [
  {"r":1,"t":0,"v":0.14},{"r":1,"t":29,"v":0.14},{"r":1,"t":30,"v":0.7},{"r":1,"t":34,"v":0.82},{"r":1,"t":38,"v":0.88},{"r":1,"t":42,"v":0.85},{"r":1,"t":48,"v":0.75},{"r":1,"t":55,"v":0.6},{"r":1,"t":62,"v":0.46},{"r":1,"t":70,"v":0.33},{"r":1,"t":80,"v":0.22},{"r":1,"t":90,"v":0.16},{"r":1,"t":105,"v":0.13},{"r":1,"t":150,"v":0.12},
  {"r":2,"t":0,"v":0.13},{"r":2,"t":29,"v":0.13},{"r":2,"t":30,"v":0.68},{"r":2,"t":34,"v":0.78},{"r":2,"t":38,"v":0.84},{"r":2,"t":43,"v":0.8},{"r":2,"t":50,"v":0.68},{"r":2,"t":57,"v":0.55},{"r":2,"t":64,"v":0.42},{"r":2,"t":72,"v":0.3},{"r":2,"t":82,"v":0.2},{"r":2,"t":95,"v":0.15},{"r":2,"t":150,"v":0.12},
  {"r":3,"t":0,"v":0.13},{"r":3,"t":29,"v":0.13},{"r":3,"t":30,"v":0.65},{"r":3,"t":34,"v":0.75},{"r":3,"t":39,"v":0.8},{"r":3,"t":45,"v":0.76},{"r":3,"t":52,"v":0.65},{"r":3,"t":60,"v":0.5},{"r":3,"t":68,"v":0.38},{"r":3,"t":76,"v":0.28},{"r":3,"t":86,"v":0.19},{"r":3,"t":100,"v":0.14},{"r":3,"t":150,"v":0.12},
  {"r":4,"t":0,"v":0.13},{"r":4,"t":29.5,"v":0.13},{"r":4,"t":30.5,"v":0.66},{"r":4,"t":35,"v":0.72},{"r":4,"t":40,"v":0.74},{"r":4,"t":46,"v":0.7},{"r":4,"t":54,"v":0.6},{"r":4,"t":62,"v":0.48},{"r":4,"t":70,"v":0.36},{"r":4,"t":80,"v":0.25},{"r":4,"t":92,"v":0.17},{"r":4,"t":110,"v":0.13},{"r":4,"t":150,"v":0.12},
  {"r":5,"t":0,"v":0.13},{"r":5,"t":29.5,"v":0.13},{"r":5,"t":30.5,"v":0.62},{"r":5,"t":35,"v":0.7},{"r":5,"t":40,"v":0.72},{"r":5,"t":47,"v":0.68},{"r":5,"t":55,"v":0.6},{"r":5,"t":65,"v":0.5},{"r":5,"t":75,"v":0.42},{"r":5,"t":85,"v":0.34},{"r":5,"t":95,"v":0.27},{"r":5,"t":105,"v":0.22},{"r":5,"t":120,"v":0.16},{"r":5,"t":150,"v":0.13},
  {"r":6,"t":0,"v":0.14},{"r":6,"t":29,"v":0.14},{"r":6,"t":30,"v":0.7},{"r":6,"t":33,"v":0.85},{"r":6,"t":37,"v":0.9},{"r":6,"t":41,"v":0.86},{"r":6,"t":46,"v":0.76},{"r":6,"t":52,"v":0.62},{"r":6,"t":58,"v":0.48},{"r":6,"t":65,"v":0.35},{"r":6,"t":74,"v":0.23},{"r":6,"t":85,"v":0.16},{"r":6,"t":100,"v":0.13},{"r":6,"t":150,"v":0.12},
  {"r":7,"t":0,"v":0.13},{"r":7,"t":29,"v":0.13},{"r":7,"t":30,"v":0.6},{"r":7,"t":34,"v":0.66},{"r":7,"t":39,"v":0.68},{"r":7,"t":45,"v":0.64},{"r":7,"t":52,"v":0.56},{"r":7,"t":60,"v":0.45},{"r":7,"t":68,"v":0.34},{"r":7,"t":78,"v":0.24},{"r":7,"t":90,"v":0.16},{"r":7,"t":105,"v":0.13},{"r":7,"t":150,"v":0.12},
  {"r":8,"t":0,"v":0.12},{"r":8,"t":29.5,"v":0.12},{"r":8,"t":30.5,"v":0.72},{"r":8,"t":35,"v":0.8},{"r":8,"t":40,"v":0.82},{"r":8,"t":45,"v":0.78},{"r":8,"t":50,"v":0.7},{"r":8,"t":56,"v":0.58},{"r":8,"t":63,"v":0.44},{"r":8,"t":70,"v":0.32},{"r":8,"t":80,"v":0.22},{"r":8,"t":92,"v":0.16},{"r":8,"t":150,"v":0.12}
 ]
},
"resolve": {"scale": {"color": "independent"}, "legend": {"color": "independent"}},
"center": true,
"spacing": 0,
"vconcat": [
 {
  "center": true,
  "spacing": 7,
  "resolve": {"scale": {"color": "independent"}, "legend": {"color": "independent"}},
  "vconcat": [
   {
    "center": true,
    "spacing": 8,
    "vconcat": [
     {
      "width": 682, "height": 41,
      "view": {"stroke": null},
      "data": {"values": [{"c": 0, "h": 0}, {"c": 1, "h": 1}]},
      "mark": {"type": "area", "fill": "#d4d4d4", "stroke": "#555555", "strokeWidth": 1},
      "encoding": {
       "x": {"field": "c", "type": "quantitative", "scale": {"domain": [0, 1.0412], "nice": false}, "axis": {"title": "ATP Concentration", "labels": false, "ticks": false, "domain": false, "titleX": 327.5, "titlePadding": 14}},
       "y": {"field": "h", "type": "quantitative", "scale": {"domain": [0, 1], "nice": false}, "axis": {"title": "A", "labels": false, "ticks": false, "domain": false, "titleAngle": 0, "titleX": -40, "titleY": 2, "titleAlign": "left", "titleBaseline": "top", "titleFontSize": 15}}
      }
     },
     {
      "hconcat": [
       {
        "width": 101, "height": 70, "title": {"text": "10⁻⁷ M", "offset": -6.5},
        "data": {"name": "s7"},
        "mark": {"type": "line", "strokeWidth": 2, "clip": true},
        "encoding": {
         "x": {"field": "t", "type": "quantitative", "scale": {"domain": [0, 137], "nice": false}, "axis": {"values": [0, 50, 100], "title": "Time (s)"}},
         "y": {"field": "v", "type": "quantitative", "scale": {"domain": [0, 0.8], "nice": false}, "axis": {"values": [0, 0.2, 0.4, 0.6, 0.8], "labelExpr": "datum.value == 0 ? '0' : format(datum.value, '.1f')", "title": "[Ca²⁺]ᵢ (μM)"}},
         "color": {"field": "m", "type": "nominal", "scale": {"domain": ["Full model", "P2x7 submodel", "P2y2 submodel"], "range": ["#2a4580", "#8c8c84", "#e9cf45"]}, "legend": null}
        }
       },
       {
        "width": 101, "height": 70, "title": {"text": "10⁻⁶ M", "offset": -6.5},
        "data": {"name": "s6"},
        "mark": {"type": "line", "strokeWidth": 2, "clip": true},
        "encoding": {
         "x": {"field": "t", "type": "quantitative", "scale": {"domain": [0, 162], "nice": false}, "axis": {"values": [0, 50, 100, 150], "title": "Time (s)"}},
         "y": {"field": "v", "type": "quantitative", "scale": {"domain": [0, 0.8], "nice": false}, "axis": {"values": [0, 0.2, 0.4, 0.6, 0.8], "labelExpr": "datum.value == 0 ? '0' : format(datum.value, '.1f')", "title": null}},
         "color": {"field": "m", "type": "nominal", "scale": {"domain": ["Full model", "P2x7 submodel", "P2y2 submodel"], "range": ["#2a4580", "#8c8c84", "#e9cf45"]}, "legend": null}
        }
       },
       {
        "width": 101, "height": 70, "title": {"text": "10⁻⁵ M", "offset": -6.5},
        "data": {"name": "s5"},
        "mark": {"type": "line", "strokeWidth": 2, "clip": true},
        "encoding": {
         "x": {"field": "t", "type": "quantitative", "scale": {"domain": [0, 155], "nice": false}, "axis": {"values": [0, 50, 100], "title": "Time (s)"}},
         "y": {"field": "v", "type": "quantitative", "scale": {"domain": [0, 0.8], "nice": false}, "axis": {"values": [0, 0.2, 0.4, 0.6, 0.8], "labelExpr": "datum.value == 0 ? '0' : format(datum.value, '.1f')", "title": null}},
         "color": {"field": "m", "type": "nominal", "scale": {"domain": ["Full model", "P2x7 submodel", "P2y2 submodel"], "range": ["#2a4580", "#8c8c84", "#e9cf45"]}, "legend": null}
        }
       },
       {
        "width": 101, "height": 70, "title": {"text": "10⁻⁴ M", "offset": -6.5},
        "data": {"name": "s4"},
        "mark": {"type": "line", "strokeWidth": 2, "clip": true},
        "encoding": {
         "x": {"field": "t", "type": "quantitative", "scale": {"domain": [0, 150], "nice": false}, "axis": {"values": [0, 50, 100], "title": "Time (s)"}},
         "y": {"field": "v", "type": "quantitative", "scale": {"domain": [0, 0.8], "nice": false}, "axis": {"values": [0, 0.2, 0.4, 0.6, 0.8], "labelExpr": "datum.value == 0 ? '0' : format(datum.value, '.1f')", "title": null}},
         "color": {"field": "m", "type": "nominal", "scale": {"domain": ["Full model", "P2x7 submodel", "P2y2 submodel"], "range": ["#2a4580", "#8c8c84", "#e9cf45"]}, "legend": null}
        }
       },
       {
        "width": 101, "height": 70, "title": {"text": "10⁻³ M", "offset": -6.5},
        "layer": [
         {
          "data": {"name": "s3"},
          "mark": {"type": "line", "strokeWidth": 2, "clip": true},
          "encoding": {
           "x": {"field": "t", "type": "quantitative", "scale": {"domain": [0, 165], "nice": false}, "axis": {"values": [0, 50, 100, 150], "title": "Time (s)"}},
           "y": {"field": "v", "type": "quantitative", "scale": {"domain": [0, 0.8], "nice": false}, "axis": {"values": [0, 0.2, 0.4, 0.6, 0.8], "labelExpr": "datum.value == 0 ? '0' : format(datum.value, '.1f')", "title": null}},
           "color": {"field": "m", "type": "nominal", "scale": {"domain": ["Full model", "P2x7 submodel", "P2y2 submodel"], "range": ["#2a4580", "#8c8c84", "#e9cf45"]}, "legend": null}
          }
         },
         {
          "data": {"values": [{"s": 0}, {"s": 1}]},
          "mark": {"type": "rule", "opacity": 0},
          "encoding": {
           "y": {"field": "s", "type": "quantitative", "scale": {"domain": [0, 1], "nice": false}, "axis": {"orient": "right", "offset": 16, "domain": true, "domainColor": "#333333", "domainWidth": 2, "ticks": false, "labels": false, "title": "Simulated", "titleFontWeight": "bold", "titleFontSize": 12.5, "titleColor": "#333333", "titlePadding": 1}}
          }
         }
        ],
        "resolve": {"scale": {"y": "independent"}}
       }
      ],
      "spacing": 36,
      "bounds": "flush"
     }
    ]
   },
   {
    "center": true,
    "spacing": 40,
    "resolve": {"scale": {"color": "independent"}, "legend": {"color": "independent"}},
    "vconcat": [
     {
      "width": 660, "height": 29,
      "view": {"stroke": "#666666", "strokeWidth": 1},
      "data": {"values": [{"m": "Full model"}, {"m": "P2x7 submodel"}, {"m": "P2y2 submodel"}]},
      "mark": {"type": "line", "strokeWidth": 2, "clip": true},
      "encoding": {
       "x": {"datum": 0.5, "type": "quantitative", "scale": {"domain": [0, 1]}, "axis": null},
       "y": {"datum": 0.5, "type": "quantitative", "scale": {"domain": [0, 1]}, "axis": {"orient": "right", "title": " ", "labels": false, "ticks": false, "domain": false, "titlePadding": 16}},
       "color": {"field": "m", "type": "nominal", "scale": {"domain": ["Full model", "P2x7 submodel", "P2y2 submodel"], "range": ["#2a4580", "#8c8c84", "#e9cf45"]},
        "legend": {"orient": "none", "legendX": 57, "legendY": -1.5, "direction": "horizontal", "title": null, "symbolType": "stroke", "symbolSize": 1024, "symbolStrokeWidth": 2, "labelFontSize": 13, "labelOffset": 6, "columnPadding": 60, "gridAlign": "all"}}
      }
     },
     {
      "center": true,
      "spacing": 1,
      "resolve": {"scale": {"color": "independent"}, "legend": {"color": "independent"}},
      "vconcat": [
       {
        "columns": 5,
        "spacing": {"row": 5, "column": 36},
        "bounds": "flush",
        "title": {"text": "B", "anchor": "start", "frame": "bounds", "offset": -16, "fontSize": 15, "fontWeight": "normal", "color": "#404040"},
        "concat": [
         {
          "width": 101, "height": 52, "title": {"text": "10⁻⁷ M", "offset": -1},
          "layer": [
           {"data": {"name": "e7w"}, "mark": {"type": "line", "strokeWidth": 1, "color": "#2a4580", "clip": true},
            "encoding": {
             "x": {"field": "t", "type": "quantitative", "scale": {"domain": [0, 140], "nice": false}, "axis": {"values": [0, 50, 100], "labels": false, "title": null}},
             "y": {"field": "v", "type": "quantitative", "scale": {"domain": [-0.12, 1.12], "nice": false}, "axis": {"values": [0, 0.5, 1], "labelExpr": "datum.value == 0 ? '0' : format(datum.value, '.1f')", "title": null}},
             "detail": {"field": "r", "type": "nominal"}}},
           {"data": {"values": [{"label": "WT"}]}, "mark": {"type": "text", "align": "left", "baseline": "middle", "fontSize": 13.5, "color": "#404040"},
            "encoding": {"text": {"field": "label"}, "x": {"datum": 11}, "y": {"datum": 0.78}}}
          ]
         },
         {
          "width": 101, "height": 52, "title": {"text": "10⁻⁶ M", "offset": -1},
          "data": {"name": "e6w"}, "mark": {"type": "line", "strokeWidth": 1, "color": "#2a4580", "clip": true},
          "encoding": {
           "x": {"field": "t", "type": "quantitative", "scale": {"domain": [0, 152], "nice": false}, "axis": {"values": [0, 50, 100, 150], "labels": false, "title": null}},
           "y": {"field": "v", "type": "quantitative", "scale": {"domain": [-0.12, 1.12], "nice": false}, "axis": {"values": [0, 0.5, 1], "labelExpr": "datum.value == 0 ? '0' : format(datum.value, '.1f')", "title": null}},
           "detail": {"field": "r", "type": "nominal"}}
         },
         {
          "width": 101, "height": 52, "title": {"text": "10⁻⁵ M", "offset": -1},
          "data": {"name": "e5w"}, "mark": {"type": "line", "strokeWidth": 1, "color": "#2a4580", "clip": true},
          "encoding": {
           "x": {"field": "t", "type": "quantitative", "scale": {"domain": [0, 150], "nice": false}, "axis": {"values": [0, 50, 100], "labels": false, "title": null}},
           "y": {"field": "v", "type": "quantitative", "scale": {"domain": [-0.12, 1.12], "nice": false}, "axis": {"values": [0, 0.5, 1], "labelExpr": "datum.value == 0 ? '0' : format(datum.value, '.1f')", "title": null}},
           "detail": {"field": "r", "type": "nominal"}}
         },
         {
          "width": 101, "height": 52, "title": {"text": "10⁻⁴ M", "offset": -1},
          "data": {"name": "e4w"}, "mark": {"type": "line", "strokeWidth": 1, "color": "#2a4580", "clip": true},
          "encoding": {
           "x": {"field": "t", "type": "quantitative", "scale": {"domain": [0, 150], "nice": false}, "axis": {"values": [0, 50, 100, 150], "labels": false, "title": null}},
           "y": {"field": "v", "type": "quantitative", "scale": {"domain": [-0.12, 1.12], "nice": false}, "axis": {"values": [0, 0.5, 1], "labelExpr": "datum.value == 0 ? '0' : format(datum.value, '.1f')", "title": null}},
           "detail": {"field": "r", "type": "nominal"}}
         },
         {
          "width": 101, "height": 52, "title": {"text": "10⁻³ M", "offset": -1},
          "data": {"name": "e3w"}, "mark": {"type": "line", "strokeWidth": 1, "color": "#2a4580", "clip": true},
          "encoding": {
           "x": {"field": "t", "type": "quantitative", "scale": {"domain": [0, 150], "nice": false}, "axis": {"values": [0, 50, 100], "labels": false, "title": null}},
           "y": {"field": "v", "type": "quantitative", "scale": {"domain": [-0.12, 1.12], "nice": false}, "axis": {"values": [0, 0.5, 1], "labelExpr": "datum.value == 0 ? '0' : format(datum.value, '.1f')", "title": null}},
           "detail": {"field": "r", "type": "nominal"}}
         },
         {
          "width": 101, "height": 52,
          "layer": [
           {"data": {"name": "e7g"}, "mark": {"type": "line", "strokeWidth": 1, "color": "#c4c4bc", "clip": true},
            "encoding": {
             "x": {"field": "t", "type": "quantitative", "scale": {"domain": [0, 140], "nice": false}, "axis": {"values": [0, 50, 100], "labels": false, "title": null}},
             "y": {"field": "v", "type": "quantitative", "scale": {"domain": [-0.12, 1.12], "nice": false}, "axis": {"values": [0, 0.5, 1], "labelExpr": "datum.value == 0 ? '0' : format(datum.value, '.1f')", "title": "[Ca²⁺]ᵢ (max⁻¹)", "titlePadding": 4}},
             "detail": {"field": "r", "type": "nominal"}}},
           {"data": {"values": [{"label": "P2ry2Δ"}]}, "mark": {"type": "text", "align": "left", "baseline": "middle", "fontSize": 13.5, "fontStyle": "italic", "color": "#404040"},
            "encoding": {"text": {"field": "label"}, "x": {"datum": 11}, "y": {"datum": 0.78}}}
          ]
         },
         {
          "width": 101, "height": 52,
          "data": {"name": "e6g"}, "mark": {"type": "line", "strokeWidth": 1, "color": "#c4c4bc", "clip": true},
          "encoding": {
           "x": {"field": "t", "type": "quantitative", "scale": {"domain": [0, 152], "nice": false}, "axis": {"values": [0, 50, 100, 150], "labels": false, "title": null}},
           "y": {"field": "v", "type": "quantitative", "scale": {"domain": [-0.12, 1.12], "nice": false}, "axis": {"values": [0, 0.5, 1], "labelExpr": "datum.value == 0 ? '0' : format(datum.value, '.1f')", "title": null}},
           "detail": {"field": "r", "type": "nominal"}}
         },
         {
          "width": 101, "height": 52,
          "data": {"name": "e5g"}, "mark": {"type": "line", "strokeWidth": 1, "color": "#b0b0a8", "clip": true},
          "encoding": {
           "x": {"field": "t", "type": "quantitative", "scale": {"domain": [0, 150], "nice": false}, "axis": {"values": [0, 50, 100], "labels": false, "title": null}},
           "y": {"field": "v", "type": "quantitative", "scale": {"domain": [-0.12, 1.12], "nice": false}, "axis": {"values": [0, 0.5, 1], "labelExpr": "datum.value == 0 ? '0' : format(datum.value, '.1f')", "title": null}},
           "detail": {"field": "r", "type": "nominal"}}
         },
         {
          "width": 101, "height": 52,
          "data": {"name": "e4g"}, "mark": {"type": "line", "strokeWidth": 1, "color": "#8c8c84", "clip": true},
          "encoding": {
           "x": {"field": "t", "type": "quantitative", "scale": {"domain": [0, 150], "nice": false}, "axis": {"values": [0, 50, 100, 150], "labels": false, "title": null}},
           "y": {"field": "v", "type": "quantitative", "scale": {"domain": [-0.12, 1.12], "nice": false}, "axis": {"values": [0, 0.5, 1], "labelExpr": "datum.value == 0 ? '0' : format(datum.value, '.1f')", "title": null}},
           "detail": {"field": "r", "type": "nominal"}}
         },
         {
          "width": 101, "height": 52,
          "layer": [
           {"data": {"name": "e3g"}, "mark": {"type": "line", "strokeWidth": 1, "color": "#8c8c84", "clip": true},
            "encoding": {
             "x": {"field": "t", "type": "quantitative", "scale": {"domain": [0, 150], "nice": false}, "axis": {"values": [0, 50, 100], "labels": false, "title": null}},
             "y": {"field": "v", "type": "quantitative", "scale": {"domain": [-0.12, 1.12], "nice": false}, "axis": {"values": [0, 0.5, 1], "labelExpr": "datum.value == 0 ? '0' : format(datum.value, '.1f')", "title": null}},
             "detail": {"field": "r", "type": "nominal"}}},
           {"data": {"values": [{"s": 0}, {"s": 1}]}, "mark": {"type": "rule", "opacity": 0},
            "encoding": {
             "y": {"field": "s", "type": "quantitative", "scale": {"domain": [0, 1], "range": [109, -57], "nice": false}, "axis": {"orient": "right", "offset": 16, "domain": true, "domainColor": "#333333", "domainWidth": 2, "ticks": false, "labels": false, "title": "Experimental", "titleFontWeight": "bold", "titleFontSize": 12.5, "titleColor": "#333333", "titlePadding": 1}}}}
          ],
          "resolve": {"scale": {"y": "independent"}}
         },
         {
          "width": 101, "height": 52,
          "layer": [
           {"data": {"name": "e7y"}, "mark": {"type": "line", "strokeWidth": 1, "color": "#e9cf45", "clip": true},
            "encoding": {
             "x": {"field": "t", "type": "quantitative", "scale": {"domain": [0, 140], "nice": false}, "axis": {"values": [0, 50, 100], "title": "Time (s)", "labelPadding": 4, "titlePadding": 1}},
             "y": {"field": "v", "type": "quantitative", "scale": {"domain": [-0.12, 1.12], "nice": false}, "axis": {"values": [0, 0.5, 1], "labelExpr": "datum.value == 0 ? '0' : format(datum.value, '.1f')", "title": null}},
             "detail": {"field": "r", "type": "nominal"}}},
           {"data": {"values": [{"label": "P2rx7Δ"}]}, "mark": {"type": "text", "align": "left", "baseline": "middle", "fontSize": 13.5, "fontStyle": "italic", "color": "#404040"},
            "encoding": {"text": {"field": "label"}, "x": {"datum": 11}, "y": {"datum": 0.8}}}
          ]
         },
         {
          "width": 101, "height": 52,
          "data": {"name": "e6y"}, "mark": {"type": "line", "strokeWidth": 1, "color": "#e9cf45", "clip": true},
          "encoding": {
           "x": {"field": "t", "type": "quantitative", "scale": {"domain": [0, 152], "nice": false}, "axis": {"values": [0, 50, 100, 150], "title": "Time (s)", "labelPadding": 4, "titlePadding": 1}},
           "y": {"field": "v", "type": "quantitative", "scale": {"domain": [-0.12, 1.12], "nice": false}, "axis": {"values": [0, 0.5, 1], "labelExpr": "datum.value == 0 ? '0' : format(datum.value, '.1f')", "title": null}},
           "detail": {"field": "r", "type": "nominal"}}
         },
         {
          "width": 101, "height": 52,
          "data": {"name": "e5y"}, "mark": {"type": "line", "strokeWidth": 1, "color": "#e9cf45", "clip": true},
          "encoding": {
           "x": {"field": "t", "type": "quantitative", "scale": {"domain": [0, 150], "nice": false}, "axis": {"values": [0, 50, 100], "title": "Time (s)", "labelPadding": 4, "titlePadding": 1}},
           "y": {"field": "v", "type": "quantitative", "scale": {"domain": [-0.12, 1.12], "nice": false}, "axis": {"values": [0, 0.5, 1], "labelExpr": "datum.value == 0 ? '0' : format(datum.value, '.1f')", "title": null}},
           "detail": {"field": "r", "type": "nominal"}}
         },
         {
          "width": 101, "height": 52,
          "data": {"name": "e4y"}, "mark": {"type": "line", "strokeWidth": 1, "color": "#e9cf45", "clip": true},
          "encoding": {
           "x": {"field": "t", "type": "quantitative", "scale": {"domain": [0, 150], "nice": false}, "axis": {"values": [0, 50, 100, 150], "title": "Time (s)", "labelPadding": 4, "titlePadding": 1}},
           "y": {"field": "v", "type": "quantitative", "scale": {"domain": [-0.12, 1.12], "nice": false}, "axis": {"values": [0, 0.5, 1], "labelExpr": "datum.value == 0 ? '0' : format(datum.value, '.1f')", "title": null}},
           "detail": {"field": "r", "type": "nominal"}}
         },
         {
          "width": 101, "height": 52,
          "data": {"name": "e3y"}, "mark": {"type": "line", "strokeWidth": 1, "color": "#e9cf45", "clip": true},
          "encoding": {
           "x": {"field": "t", "type": "quantitative", "scale": {"domain": [0, 150], "nice": false}, "axis": {"values": [0, 50, 100], "title": "Time (s)", "labelPadding": 4, "titlePadding": 1}},
           "y": {"field": "v", "type": "quantitative", "scale": {"domain": [-0.12, 1.12], "nice": false}, "axis": {"values": [0, 0.5, 1], "labelExpr": "datum.value == 0 ? '0' : format(datum.value, '.1f')", "title": null}},
           "detail": {"field": "r", "type": "nominal"}}
         }
        ]
       },
       {
        "width": 555, "height": 24,
        "view": {"stroke": "#666666", "strokeWidth": 1},
        "data": {"values": [{"g": "WT"}, {"g": "P2ry2Δ"}, {"g": "P2rx7Δ"}]},
        "encoding": {
         "y": {"datum": 0.5, "type": "quantitative", "scale": {"domain": [0, 1]}, "axis": {"title": " ", "labels": false, "ticks": false, "domain": false, "titlePadding": 14}}
        },
        "layer": [
         {
          "mark": {"type": "tick", "orient": "horizontal", "size": 32, "thickness": 2},
          "encoding": {
           "x": {"field": "g", "type": "nominal", "bandPosition": 0.2056, "scale": {"domain": ["WT", "P2ry2Δ", "P2rx7Δ"], "paddingInner": 0, "paddingOuter": 0.0417}, "axis": null},
           "color": {"field": "g", "type": "nominal", "scale": {"domain": ["WT", "P2ry2Δ", "P2rx7Δ"], "range": ["#2a4580", "#8c8c84", "#e9cf45"]}, "legend": null}
          }
         },
         {
          "transform": [{"filter": "datum.g == 'WT'"}],
          "mark": {"type": "text", "align": "left", "baseline": "middle", "fontSize": 13, "color": "#404040"},
          "encoding": {
           "x": {"field": "g", "type": "nominal", "bandPosition": 0.328, "scale": {"domain": ["WT", "P2ry2Δ", "P2rx7Δ"], "paddingInner": 0, "paddingOuter": 0.0417}, "axis": null},
           "text": {"field": "g"}
          }
         },
         {
          "transform": [{"filter": "datum.g != 'WT'"}],
          "mark": {"type": "text", "align": "left", "baseline": "middle", "fontSize": 13, "fontStyle": "italic", "color": "#404040"},
          "encoding": {
           "x": {"field": "g", "type": "nominal", "bandPosition": 0.328, "scale": {"domain": ["WT", "P2ry2Δ", "P2rx7Δ"], "paddingInner": 0, "paddingOuter": 0.0417}, "axis": null},
           "text": {"field": "g"}
          }
         }
        ]
       }
      ]
     }
    ]
   }
  ]
 }
]
}
